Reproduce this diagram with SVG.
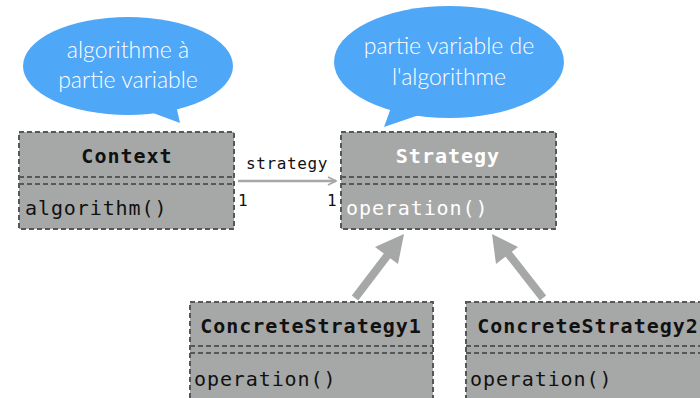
<svg xmlns="http://www.w3.org/2000/svg" width="700" height="398" viewBox="0 0 700 398">
<defs>
<style>
.box{fill:#a6a8a7;stroke:#555759;stroke-width:2;stroke-dasharray:5,3}
.sep{stroke:#555759;stroke-width:2;stroke-dasharray:5,3;fill:none}
.name{font-family:"DejaVu Sans Mono",monospace;font-weight:bold;font-size:20px;letter-spacing:1px;text-anchor:middle}
.op{font-family:"DejaVu Sans Mono",monospace;font-size:20px;letter-spacing:0.9px}
.lbl{font-family:"DejaVu Sans Mono",monospace;font-size:16px;letter-spacing:0.6px;fill:#111}
.bub{fill:#4fa7f7}
.btxt{font-family:Lato,"Open Sans",sans-serif;font-weight:300;font-size:23px;fill:#fff;text-anchor:middle}
.gen{stroke:#a6a8a7;stroke-width:8;fill:none}
</style>
<marker id="open" viewBox="0 0 10 10" refX="9" refY="5" markerWidth="10" markerHeight="10" markerUnits="userSpaceOnUse" orient="auto">
<path d="M1,1 L9,5 L1,9" fill="none" stroke="#a6a8a7" stroke-width="1.8"/>
</marker>
</defs>
<rect width="700" height="398" fill="#fff"/>
<g id="bubble1">
<ellipse class="bub" cx="128" cy="66" rx="105" ry="49"/>
<path class="bub" d="M145,110 L180,123 L176,105 Z"/>
<text class="btxt" x="128" y="58">algorithme à</text>
<text class="btxt" x="128" y="88">partie variable</text>
</g>
<g id="bubble2">
<ellipse class="bub" cx="449" cy="62" rx="115" ry="56"/>
<path class="bub" d="M392,105 L384,127 L422,114 Z"/>
<text class="btxt" x="449" y="54">partie variable de</text>
<text class="btxt" x="449" y="85">l'algorithme</text>
</g>
<g id="Context">
<rect class="box" x="19" y="132" width="215" height="97"/>
<line class="sep" x1="19" y1="177" x2="234" y2="177"/>
<line class="sep" x1="19" y1="184" x2="234" y2="184"/>
<text class="name" x="127" y="163" fill="#111">Context</text>
<text class="op" x="25" y="215" fill="#111">algorithm()</text>
</g>
<g id="Strategy">
<rect class="box" x="341" y="132" width="215" height="97"/>
<line class="sep" x1="341" y1="177" x2="556" y2="177"/>
<line class="sep" x1="341" y1="184" x2="556" y2="184"/>
<text class="name" x="448" y="163" fill="#fff">Strategy</text>
<text class="op" x="346" y="215" fill="#fff">operation()</text>
</g>
<g id="ConcreteStrategy1">
<rect class="box" x="190" y="302" width="243" height="97"/>
<line class="sep" x1="190" y1="346" x2="433" y2="346"/>
<line class="sep" x1="190" y1="353" x2="433" y2="353"/>
<text class="name" x="311" y="333" fill="#111">ConcreteStrategy1</text>
<text class="op" x="194" y="386" fill="#111">operation()</text>
</g>
<g id="ConcreteStrategy2">
<rect class="box" x="466" y="302" width="244" height="97"/>
<line class="sep" x1="466" y1="346" x2="710" y2="346"/>
<line class="sep" x1="466" y1="353" x2="710" y2="353"/>
<text class="name" x="588" y="333" fill="#111">ConcreteStrategy2</text>
<text class="op" x="470" y="386" fill="#111">operation()</text>
</g>
<g id="connectors">
<line x1="238" y1="181" x2="336" y2="181" stroke="#a6a8a7" stroke-width="2.5" marker-end="url(#open)"/>
<text class="lbl" x="246" y="169">strategy</text>
<text class="lbl" x="238" y="206">1</text>
<text class="lbl" x="327" y="206">1</text>
<line class="gen" x1="355" y1="298" x2="390" y2="252"/>
<polygon points="404,234 375,247 398,264" fill="#a6a8a7"/>
<line class="gen" x1="543" y1="298" x2="507" y2="252"/>
<polygon points="492,234 496,264 518,247" fill="#a6a8a7"/>
</g>
</svg>
